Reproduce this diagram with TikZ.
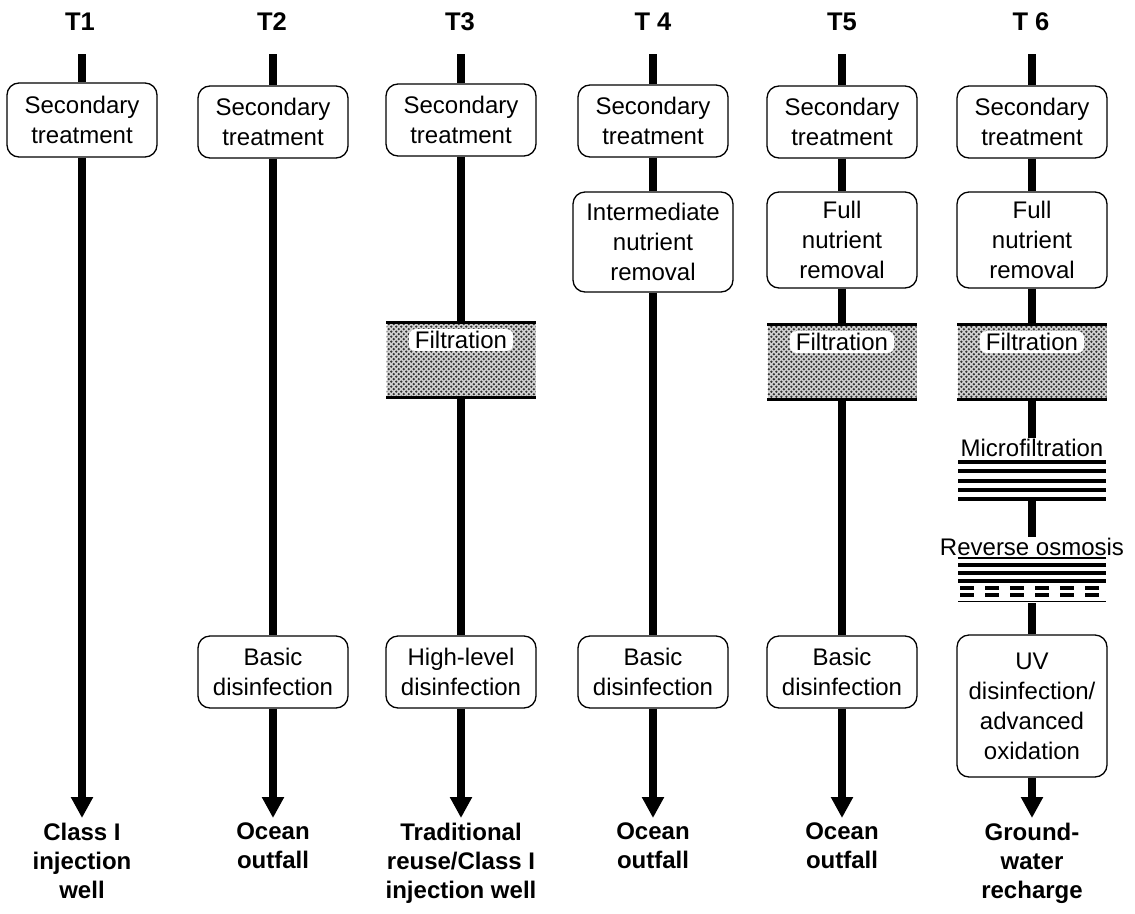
\documentclass[tikz,border=0pt]{standalone}
\usepackage{fontspec}
\setmainfont{Liberation Sans}
\usetikzlibrary{arrows.meta,patterns}
\pgfdeclarepatternformonly{stipple}{\pgfpoint{-1pt}{-1pt}}{\pgfpoint{6pt}{6pt}}{\pgfpoint{5pt}{5pt}}{
  \pgfpathcircle{\pgfpoint{1.25pt}{1.25pt}}{1.25pt}
  \pgfpathcircle{\pgfpoint{3.75pt}{3.75pt}}{1.25pt}
  \pgfusepath{fill}
}
\newcommand{\boxfnt}{\fontsize{24}{30}\selectfont}
\newcommand{\titlefnt}{\fontsize{25.5}{28}\selectfont\bfseries}
\newcommand{\destfnt}{\fontsize{24}{29}\selectfont\bfseries}
\begin{document}
\begin{tikzpicture}[x=1pt,y=-1pt,
  proc/.style={draw, line width=1.3pt, rounded corners=12pt, fill=white,
    align=center, minimum width=150pt, minimum height=72pt, font=\boxfnt, inner sep=0pt},
  filt/.style={minimum width=149pt, minimum height=74pt, inner sep=0pt,
    fill=gray!35, postaction={pattern=stipple, pattern color=black!80}},
  filtlabel/.style={fill=white, rounded corners=6pt, font=\boxfnt, inner xsep=6pt, inner ysep=2pt},
  plainlabel/.style={font=\boxfnt, inner sep=1pt},
  title/.style={font=\titlefnt},
  dest/.style={font=\destfnt, align=center, anchor=north, inner sep=0pt},
  flow/.style={line width=8pt},
  arr/.style={flow, -{Triangle[width=21pt,length=21pt]}},
  edge/.style={line width=3pt},
  membrane/.style={line width=4pt},
  thinmem/.style={line width=1.5pt}
]
\useasboundingbox (0,0) rectangle (1135,913);

% ---------- titles ----------
\node[title] (t1) at (80,22) {T1};
\node[title] (t2) at (272,22) {T2};
\node[title] (t3) at (460,22) {T3};
\node[title] (t4) at (653,22) {T 4};
\node[title] (t5) at (842,22) {T5};
\node[title] (t6) at (1031,22) {T 6};

% ---------- T1 ----------
\coordinate (top1) at (82,54);
\coordinate (end1) at (82,818);
\node[proc, minimum height=74pt] (sec1) at (82,120) {Secondary\\treatment};
\draw[flow] (top1) -- (sec1.north);
\draw[arr] (sec1.south) -- (end1);
\node[dest] (d1) at (82,823) {Class I\\injection\\well};

% ---------- T2 ----------
\coordinate (top2) at (273,54);
\coordinate (end2) at (273,818);
\node[proc] (sec2) at (273,122) {Secondary\\treatment};
\node[proc] (dis2) at (273,672) {Basic\\disinfection};
\draw[flow] (top2) -- (sec2.north);
\draw[flow] (sec2.south) -- (dis2.north);
\draw[arr] (dis2.south) -- (end2);
\node[dest] (d2) at (273,823) {Ocean\\outfall};

% ---------- T3 ----------
\coordinate (top3) at (461,54);
\coordinate (end3) at (461,818);
\node[proc] (sec3) at (461,120) {Secondary\\treatment};
\node[filt] (filt3) at (461,360) {};
\draw[edge] (filt3.north west) -- (filt3.north east);
\draw[edge] (filt3.south west) -- (filt3.south east);
\node[filtlabel] (fl3) at (461,340) {Filtration};
\node[proc] (dis3) at (461,672) {High-level\\disinfection};
\draw[flow] (top3) -- (sec3.north);
\draw[flow] (sec3.south) -- (filt3.north);
\draw[flow] (filt3.south) -- (dis3.north);
\draw[arr] (dis3.south) -- (end3);
\node[dest] (d3) at (461,823) {Traditional\\reuse/Class I\\injection well};

% ---------- T4 ----------
\coordinate (top4) at (653,54);
\coordinate (end4) at (653,818);
\node[proc] (sec4) at (653,121) {Secondary\\treatment};
\node[proc, minimum width=160pt, minimum height=100pt] (int4) at (653,242) {Intermediate\\nutrient\\removal};
\node[proc] (dis4) at (653,672) {Basic\\disinfection};
\draw[flow] (top4) -- (sec4.north);
\draw[flow] (sec4.south) -- (int4.north);
\draw[flow] (int4.south) -- (dis4.north);
\draw[arr] (dis4.south) -- (end4);
\node[dest] (d4) at (653,823) {Ocean\\outfall};

% ---------- T5 ----------
\coordinate (top5) at (842,54);
\coordinate (end5) at (842,818);
\node[proc] (sec5) at (842,122) {Secondary\\treatment};
\node[proc, minimum height=96pt] (full5) at (842,240) {Full\\nutrient\\removal};
\node[filt] (filt5) at (842,362) {};
\draw[edge] (filt5.north west) -- (filt5.north east);
\draw[edge] (filt5.south west) -- (filt5.south east);
\node[filtlabel] (fl5) at (842,342) {Filtration};
\node[proc] (dis5) at (842,672) {Basic\\disinfection};
\draw[flow] (top5) -- (sec5.north);
\draw[flow] (sec5.south) -- (full5.north);
\draw[flow] (full5.south) -- (filt5.north);
\draw[flow] (filt5.south) -- (dis5.north);
\draw[arr] (dis5.south) -- (end5);
\node[dest] (d5) at (842,823) {Ocean\\outfall};

% ---------- T6 ----------
\coordinate (top6) at (1032,54);
\coordinate (end6) at (1032,818);
\node[proc] (sec6) at (1032,122) {Secondary\\treatment};
\node[proc, minimum height=96pt] (full6) at (1032,240) {Full\\nutrient\\removal};
\node[filt] (filt6) at (1032,362) {};
\draw[edge] (filt6.north west) -- (filt6.north east);
\draw[edge] (filt6.south west) -- (filt6.south east);
\node[filtlabel] (fl6) at (1032,342) {Filtration};
% microfiltration
\node[plainlabel] (mf6) at (1032,448) {Microfiltration};
\foreach \yy in {462,471.25,480.5,489.75,499} {
  \draw[membrane] (958,\yy) -- (1106,\yy);
}
\coordinate (mfbot6) at (1032,500);
% reverse osmosis
\node[plainlabel] (ro6) at (1032,547) {Reverse osmosis};
\draw[thinmem] (958,558) -- (1106,558);
\foreach \yy in {565,573,581} {
  \draw[membrane] (958,\yy) -- (1106,\yy);
}
\foreach \yy in {588,594.5} {
  \draw[membrane, dash pattern=on 14pt off 11pt] (960,\yy) -- (1106,\yy);
}
\draw[thinmem] (958,601.5) -- (1106,601.5);
\coordinate (robot6) at (1032,603);
\node[proc, minimum height=142pt] (uv6) at (1032,706) {UV\\disinfection/\\advanced\\oxidation};
\draw[flow] (top6) -- (sec6.north);
\draw[flow] (sec6.south) -- (full6.north);
\draw[flow] (full6.south) -- (filt6.north);
\draw[flow] (filt6.south) -- (mf6.north);
\draw[flow] (mfbot6) -- (ro6.north);
\draw[flow] (robot6) -- (uv6.north);
\draw[arr] (uv6.south) -- (end6);
\node[dest] (d6) at (1032,823) {Ground-\\water\\recharge};
\end{tikzpicture}
\end{document}
